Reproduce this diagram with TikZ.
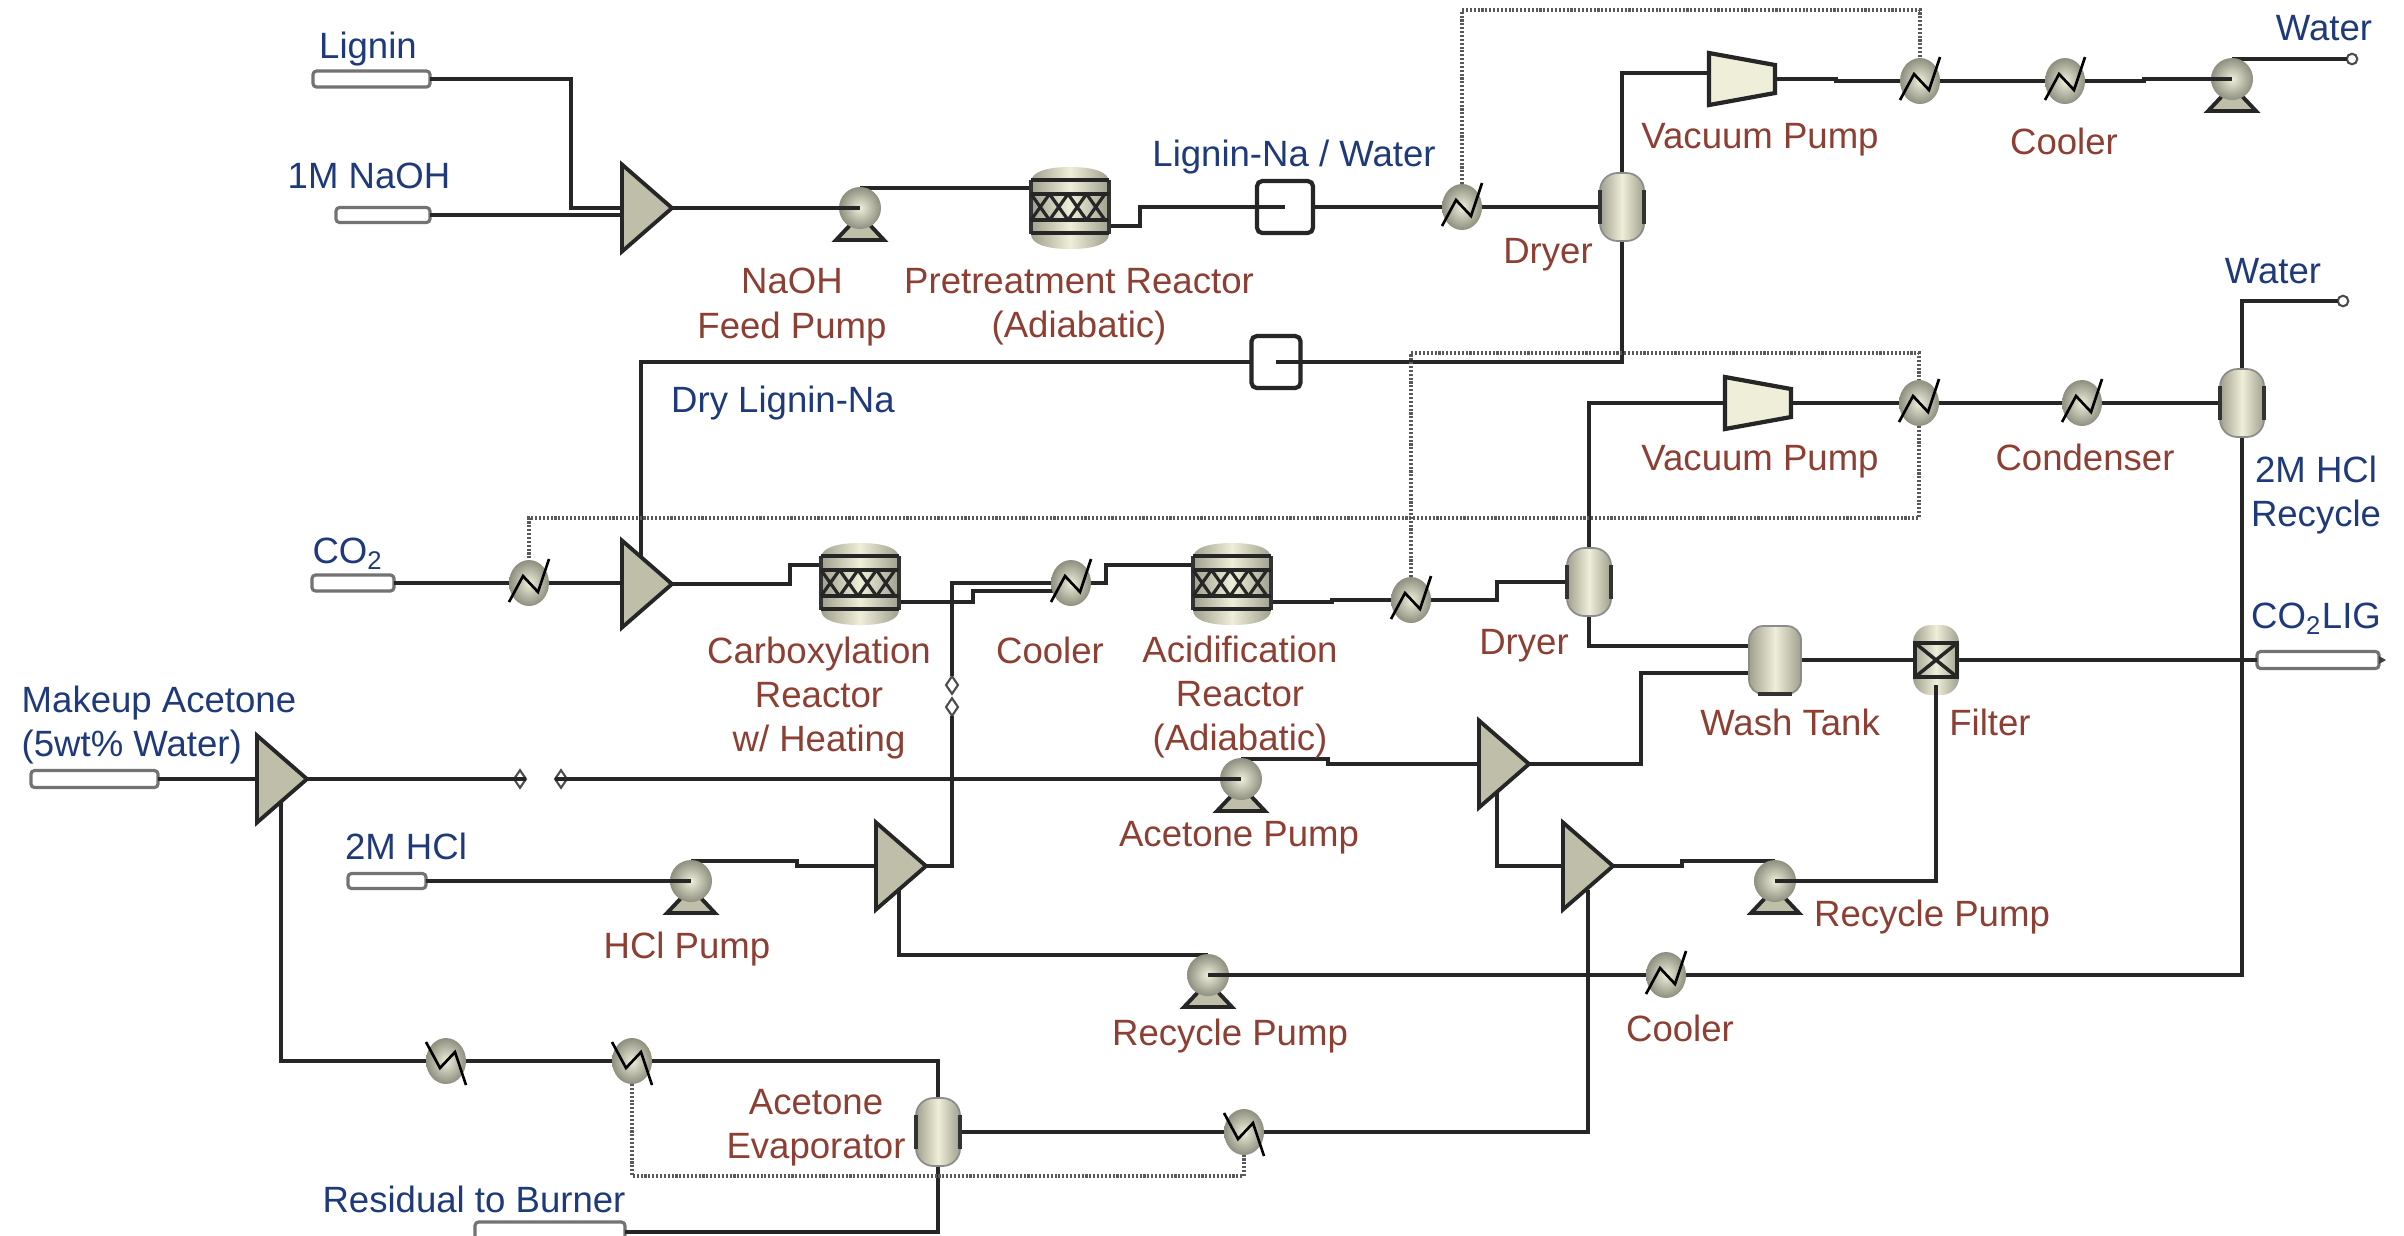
\documentclass[tikz,border=0pt]{standalone}
\usepackage{fontspec}
\setmainfont{Liberation Sans}
\usetikzlibrary{calc,shapes.geometric}
\definecolor{lblue}{HTML}{1F3A7A}
\definecolor{lred}{HTML}{8C3F32}
\definecolor{mlight}{HTML}{EEEED9}
\definecolor{mmid}{HTML}{BFBFA9}
\definecolor{mdark}{HTML}{A0A08E}
\definecolor{mball}{HTML}{8F8F80}
\tikzset{
  stream/.style={line width=1.3pt,draw=black!85,line join=miter},
  signal/.style={line width=0.9pt,draw=black!65,dash pattern=on 0.6pt off 0.5pt},
  unitnode/.style 2 args={inner sep=0pt,outer sep=0pt,minimum width=#1*0.01cm,minimum height=#2*0.01cm},
  sname/.style={font=\fontsize{10.4}{12.6}\selectfont,text=lblue,inner sep=0pt,align=center},
  uname/.style={font=\fontsize{10.4}{12.6}\selectfont,text=lred,inner sep=0pt,align=center},
  feedbox/.style 2 args={unitnode={#1}{#2},rectangle,rounded corners=1pt,draw=black!55,line width=0.9pt,fill=white},
  endmark/.style={circle,draw=black!70,fill=white,line width=0.6pt,inner sep=0pt,outer sep=0pt,minimum size=3pt},
  breakmark/.style={diamond,draw=black!70,fill=white,line width=0.6pt,inner sep=0pt,outer sep=0pt,minimum width=3.4pt,minimum height=5pt},
  metal/.style={left color=mdark,right color=mdark,middle color=mlight},
  ball/.style={inner color=mlight,outer color=mball},
  hxline/.style={line width=0.75pt,draw=black,line join=miter},
  edge/.style={line width=1.1pt,draw=black!80},
}
\newcommand\MixerBody[1]{\begin{scope}[shift={(#1.center)}]
  \draw[line width=1.1pt,draw=black!85,fill=mmid,line join=miter] (-25,-43.5) -- (25,0) -- (-25,43.5) -- cycle;
\end{scope}}
\newcommand\PumpBody[1]{\begin{scope}[shift={(#1.center)}]
  \draw[line width=1.1pt,draw=black!85,fill=mmid,line join=miter] (-8,15) -- (-24,32) -- (24,32) -- (8,15) -- cycle;
  \shade[ball] (0,0) ellipse [x radius=21,y radius=21];
\end{scope}}
\newcommand\HxBody[2]{\begin{scope}[shift={(#1.center)}]
  \shade[ball] (0,0) ellipse [x radius=20,y radius=23];
  \begin{scope}[yscale=#2]
  \draw[hxline] (-20,19) -- (-6,-7) -- (9,9) -- (20,-24);
  \end{scope}
\end{scope}}
\newcommand\CompBody[1]{\begin{scope}[shift={(#1.center)}]
  \draw[line width=1.2pt,draw=black!85,fill=mlight,line join=miter] (-33,-26) -- (33,-14) -- (33,14) -- (-33,26) -- cycle;
\end{scope}}
\newcommand\SepBody[1]{\begin{scope}[shift={(#1.center)}]
  \shade[metal,rounded corners=5pt] (-22,-34) rectangle (22,34);
  \draw[line width=0.5pt,draw=black!45,rounded corners=5pt] (-22,-34) rectangle (22,34);
  \draw[edge] (-22,-17) -- (-22,17) (22,-17) -- (22,17);
\end{scope}}
\newcommand\TankBody[1]{\begin{scope}[shift={(#1.center)}]
  \shade[metal,rounded corners=4pt] (-26,-34) rectangle (26,34);
  \draw[line width=0.5pt,draw=black!45,rounded corners=4pt] (-26,-34) rectangle (26,34);
  \draw[edge] (-17,34) -- (17,34);
\end{scope}}
\newcommand\ReactorBody[1]{\begin{scope}[shift={(#1.center)}]
  \shade[metal] (-39,-26) .. controls (-39,-36) and (-24,-41) .. (0,-41) .. controls (24,-41) and (39,-36) .. (39,-26)
    -- (39,26) .. controls (39,36) and (24,41) .. (0,41) .. controls (-24,41) and (-39,36) .. (-39,26) -- cycle;
  \draw[edge] (-39,-28) -- (-39,26) (39,-28) -- (39,26);
  \draw[line width=1.3pt,draw=black!85] (-39,-28) -- (39,-28) (-39,-14) -- (39,-14) (-39,12) -- (39,12) (-39,25) -- (39,25);
  \foreach \xa in {-39,-20.5,-2,16.5} {
    \draw[line width=0.9pt,draw=black!85] (\xa,-14) -- ({\xa+18.5},12) (\xa,12) -- ({\xa+18.5},-14);
  }
\end{scope}}
\newcommand\FilterBody[1]{\begin{scope}[shift={(#1.center)}]
  \shade[metal,rounded corners=5pt] (-23,-35) rectangle (23,35);
  \draw[line width=1.1pt,draw=black!85] (-21,-17) rectangle (21,17);
  \draw[line width=1pt,draw=black!85] (-21,-17) -- (21,17) (-21,17) -- (21,-17);
\end{scope}}
\begin{document}
\begin{tikzpicture}[x=0.01cm,y=-0.01cm]
\clip (0,0) rectangle (2404,1235);
\fill[white] (0,0) rectangle (2404,1235);
% ---- mixers
\node[unitnode={50}{87}] (m1) at (647,208) {};
\node[unitnode={50}{87}] (m2) at (647,584) {};
\node[unitnode={50}{87}] (m3) at (901,866) {};
\node[unitnode={50}{87}] (m4) at (1504,764) {};
\node[unitnode={50}{87}] (m5) at (282,779) {};
\node[unitnode={50}{87}] (m6) at (1588,866) {};
% ---- pumps
\node[unitnode={42}{40}] (p1) at (860,208) {};
\node[unitnode={42}{40}] (p2) at (2232,79) {};
\node[unitnode={42}{40}] (p3) at (1775,881) {};
\node[unitnode={42}{40}] (p4) at (1208,975) {};
\node[unitnode={42}{40}] (p5) at (691,881) {};
\node[unitnode={42}{40}] (p6) at (1241,779) {};
% ---- heat exchangers
\node[unitnode={40}{46}] (hx1) at (1462,207) {};
\node[unitnode={40}{46}] (hx2) at (1920,81) {};
\node[unitnode={40}{46}] (hx3) at (2065,81) {};
\node[unitnode={40}{46}] (hx4) at (1919,403) {};
\node[unitnode={40}{46}] (hx5) at (1411,600) {};
\node[unitnode={40}{46}] (hx6) at (1071,583) {};
\node[unitnode={40}{46}] (hx7) at (2082,403) {};
\node[unitnode={40}{46}] (hx8) at (1666,975) {};
\node[unitnode={40}{46}] (hx9) at (446,1061) {};
\node[unitnode={40}{46}] (hx10) at (632,1061) {};
\node[unitnode={40}{46}] (hx11) at (1244,1132) {};
\node[unitnode={40}{46}] (hxc) at (529,583) {};
% ---- compressors, vessels, reactors
\node[unitnode={66}{52}] (c1) at (1742,79) {};
\node[unitnode={66}{52}] (c2) at (1758,403) {};
\node[unitnode={44}{68}] (d1) at (1622,207) {};
\node[unitnode={44}{68}] (d2) at (1589,582) {};
\node[unitnode={44}{68}] (s1) at (2242,403) {};
\node[unitnode={44}{68}] (e1) at (938,1132) {};
\node[unitnode={52}{68}] (t1) at (1775,660) {};
\node[unitnode={46}{70}] (f1) at (1936,660) {};
\node[unitnode={78}{82}] (r1) at (1070,208) {};
\node[unitnode={78}{82}] (r2) at (860,584) {};
\node[unitnode={78}{82}] (r3) at (1232,584) {};
% ---- hierarchy blocks
\node[unitnode={56}{52},rectangle,rounded corners=1.5pt,draw=black!85,line width=1.2pt] (b1) at (1285,207) {};
\node[unitnode={49}{52},rectangle,rounded corners=1.5pt,draw=black!85,line width=1.2pt] (b2) at (1276,362) {};
% ---- feeds and products
\node[feedbox={117}{16}] (fLignin) at (371.5,79) {};
\node[feedbox={94}{15}] (fNaOH) at (383,215) {};
\node[feedbox={82}{16}] (fCO) at (353,583) {};
\node[feedbox={127}{17}] (fAcetone) at (94.5,779) {};
\node[feedbox={78}{15}] (fHCl) at (387,881) {};
\node[feedbox={150}{20}] (fBurner) at (550,1232) {};
\node[feedbox={122}{17}] (fLIG) at (2318,660) {};
\node[endmark] (w1) at (2352,59) {};
\node[endmark] (w2) at (2343,301) {};
\node[breakmark] (v1) at (952,685) {};
\node[breakmark] (v2) at (952,707) {};
\node[breakmark] (v3) at (520,779) {};
\node[breakmark] (v4) at (561,779) {};
% ---- ports that are not node anchors
\coordinate (r1o) at (1109,226);
\coordinate (r2i) at (821,565);
\coordinate (r2o) at (899,602);
\coordinate (r3i) at (1193,565);
\coordinate (r3o) at (1271,602);
\coordinate (c1i) at (1709,73);
\coordinate (m2t) at (641,556);
\coordinate (hx6i) at (1060,591);
\coordinate (t1a) at (1749,646);
\coordinate (t1b) at (1749,673);
\coordinate (f1b) at (1936,685);
\coordinate (m3b) at (899,890);
\coordinate (m4b) at (1497,790);
\coordinate (m5b) at (281,800);
\coordinate (m6b) at (1588,890);
\coordinate (sigTop) at (1462,10);
\coordinate (sigA) at (1411,353);
\coordinate (sigB) at (1919,518);
\coordinate (sigC) at (632,1176);
% ---- streams
\draw[stream] (fLignin.east) -- ++(141,0) |- (m1.west);
\draw[stream] (fNaOH.east) -- (m1.west |- fNaOH.east);
\draw[stream] (m1.east) -- (p1.west);
\draw[stream] (p1.north) -- (r1.west |- p1.north);
\draw[stream] (r1o) -- ++(31,0) |- (b1.west);
\draw[stream] (b1.east) -- (hx1.west);
\draw[stream] (hx1.east) -- (d1.west);
\draw[stream] (d1.north) |- (c1i);
\draw[stream] (c1.east) -- ++(61,0) |- (hx2.west);
\draw[stream] (hx2.east) -- (hx3.west);
\draw[stream] (hx3.east) -- ++(59,0) |- (p2.west);
\draw[stream] (p2.north) -- (w1.west |- p2.north);
\draw[stream] (d1.south) |- (b2.east);
\draw[stream] (b2.west) -| (m2t);
\draw[stream] (fCO.east) -- (hxc.west);
\draw[stream] (hxc.east) -- (m2.west |- hxc.east);
\draw[stream] (m2.east) -- ++(118,0) |- (r2i);
\draw[stream] (r2o) -- ++(74,0) |- (hx6i);
\draw[stream] (m3.east) -| (v2.south);
\draw[stream] (v1.north) |- (hx6.west);
\draw[stream] (hx6.east) -- ++(15,0) |- (r3i);
\draw[stream] (r3o) -- ++(61,0) |- (hx5.west);
\draw[stream] (hx5.east) -- ++(66,0) |- (d2.west);
\draw[stream] (d2.north) |- (c2.west);
\draw[stream] (c2.east) -- (hx4.west);
\draw[stream] (hx4.east) -- (hx7.west);
\draw[stream] (hx7.east) -- (s1.west);
\draw[stream] (s1.north) |- (w2.west);
\draw[stream] (s1.south) |- (hx8.east);
\draw[stream] (hx8.west) -- (p4.east);
\draw[stream] (p4.north) -| (m3b);
\draw[stream] (d2.south) |- (t1a);
\draw[stream] (t1.east) -- (f1.west);
\draw[stream] (f1.east) -- (fLIG.west);
\draw[stream] (m4.east) -- ++(112,0) |- (t1b);
\draw[stream] (m4b) |- (m6.west);
\draw[stream] (m6.east) -- ++(69,0) |- (p3.north);
\draw[stream] (fHCl.east) -- (p5.west);
\draw[stream] (p5.north) -- ++(106,0) |- (m3.west);
\draw[stream] (fAcetone.east) -- (m5.west);
\draw[stream] (m5.east) -- (v3.east);
\draw[stream] (v4.west) -- (p6.west);
\draw[stream] (p6.north) -- ++(87,0) |- (m4.west);
\draw[stream] (m5b) |- (hx9.west);
\draw[stream] (hx9.east) -- (hx10.west);
\draw[stream] (hx10.east) -| (e1.north);
\draw[stream] (e1.east) -- (hx11.west);
\draw[stream] (hx11.east) -| (m6b);
\draw[stream] (e1.south) |- (fBurner.east);
% ---- signal lines
\draw[signal] (hx1.north) -- (sigTop) -| (hx2.north);
\draw[signal] (hx5.north) -- (sigA) -| (hx4.north);
\draw[signal] (hx4.south) -- (sigB) -| (hxc.north);
\draw[signal] (hx10.south) -- (sigC) -| (hx11.south);
% ---- bodies
\MixerBody{m1}\MixerBody{m2}\MixerBody{m3}\MixerBody{m4}\MixerBody{m5}\MixerBody{m6}
\PumpBody{p1}\PumpBody{p2}\PumpBody{p3}\PumpBody{p4}\PumpBody{p5}\PumpBody{p6}
\HxBody{hx1}{1}\HxBody{hx2}{1}\HxBody{hx3}{1}\HxBody{hx4}{1}\HxBody{hx5}{1}\HxBody{hx6}{1}\HxBody{hx7}{1}\HxBody{hx8}{1}\HxBody{hxc}{1}
\HxBody{hx9}{-1}\HxBody{hx10}{-1}\HxBody{hx11}{-1}
\CompBody{c1}\CompBody{c2}
\SepBody{d1}\SepBody{d2}\SepBody{s1}\SepBody{e1}
\TankBody{t1}\FilterBody{f1}
\ReactorBody{r1}\ReactorBody{r2}\ReactorBody{r3}
% ---- stubs drawn over the bodies
\draw[stream] (p1.west) -- (p1.center);
\draw[stream] (p2.west) -- (p2.center);
\draw[stream] (p3.center) -- (p3.east) -| (f1b);
\draw[stream] (p4.east) -- (p4.center);
\draw[stream] (p5.west) -- (p5.center);
\draw[stream] (p6.west) -- (p6.center);
\draw[stream] (b1.west) -- (b1.center);
\draw[stream] (b2.east) -- (b2.center);
\fill[black!75] (fLIG.east) ++(0,-4) -- ++(7,4) -- ++(-7,4) -- cycle;
% ---- stream names
\node[sname] (tLignin) at (368,49) {Lignin};
\node[sname] (tNaOH) at (369,176) {1M NaOH};
\node[sname] (tLigNa) at (1294,157) {Lignin-Na / Water};
\node[sname] (tW1) at (2324,28) {Water};
\node[sname] (tW2) at (2273,271) {Water};
\node[sname] (tDry) at (783,403) {Dry Lignin-Na};
\node[sname] (tRec) at (2316,495) {2M HCl\\Recycle};
\node[sname] (tCO) at (348,554) {CO\textsubscript{2}};
\node[sname] (tLIG) at (2316,619) {CO\textsubscript{2}LIG};
\node[sname,align=left,anchor=west] (tMake) at (21,725) {Makeup Acetone\\(5wt\% Water)};
\node[sname] (tHCl) at (406,846) {2M HCl};
\node[sname] (tRes) at (474,1199) {Residual to Burner};
% ---- unit names
\node[uname] (uFeed) at (792,307) {NaOH\\Feed Pump};
\node[uname] (uPre) at (1079,307) {Pretreatment Reactor\\(Adiabatic)};
\node[uname] (uDry1) at (1548,255) {Dryer};
\node[uname] (uVac1) at (1760,140) {Vacuum Pump};
\node[uname] (uCool1) at (2064,141) {Cooler};
\node[uname] (uVac2) at (1760,462) {Vacuum Pump};
\node[uname] (uCond) at (2085,457) {Condenser};
\node[uname] (uCarb) at (819,698) {Carboxylation\\Reactor\\w/ Heating};
\node[uname] (uCool2) at (1050,650) {Cooler};
\node[uname] (uAcid) at (1240,697) {Acidification\\Reactor\\(Adiabatic)};
\node[uname] (uDry2) at (1524,646) {Dryer};
\node[uname] (uWash) at (1790,722) {Wash Tank};
\node[uname] (uFilt) at (1990,722) {Filter};
\node[uname] (uAcP) at (1239,838) {Acetone Pump};
\node[uname] (uHClP) at (687,949) {HCl Pump};
\node[uname] (uRec1) at (1932,917) {Recycle Pump};
\node[uname] (uRec2) at (1230,1036) {Recycle Pump};
\node[uname] (uCool3) at (1680,1028) {Cooler};
\node[uname] (uEvap) at (816,1128) {Acetone\\Evaporator};
\end{tikzpicture}
\end{document}
